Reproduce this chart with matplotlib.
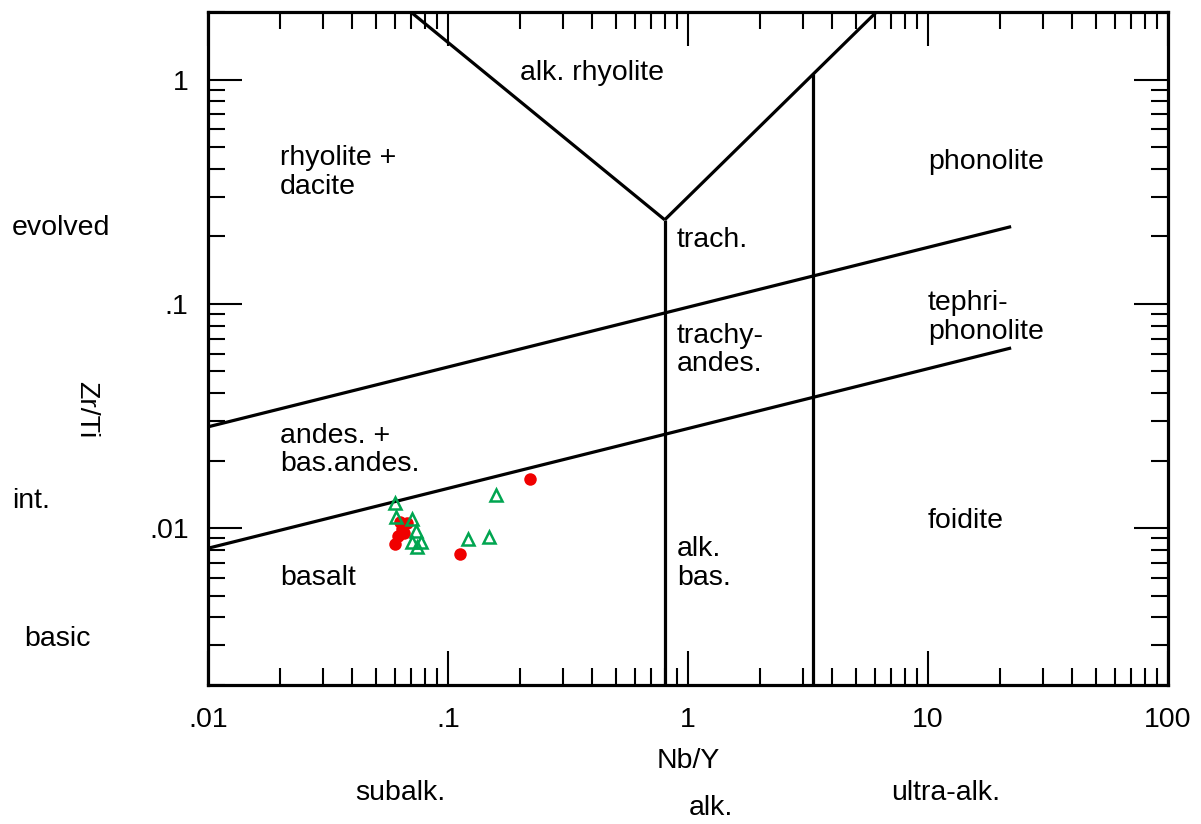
import matplotlib
matplotlib.use("Agg")
import matplotlib.pyplot as plt
from matplotlib.ticker import FixedLocator, FixedFormatter, LogLocator, NullFormatter

plt.rcParams['font.family'] = ['Liberation Sans', 'DejaVu Sans']

# Sample data (Nb/Y, Zr/Ti)
red_nb_y = [0.220, 0.112, 0.0604, 0.0621, 0.0641, 0.0628, 0.0675, 0.0653]
red_zr_ti = [0.0165, 0.00771, 0.00849, 0.00921, 0.00990, 0.01063, 0.01058, 0.00950]

green_nb_y = [0.0604, 0.0607, 0.0710, 0.0738, 0.0708, 0.0775, 0.0746, 0.1208, 0.1485, 0.1578]
green_zr_ti = [0.01293, 0.01125, 0.01103, 0.00970, 0.00871, 0.00871, 0.00827, 0.00898, 0.00918, 0.01404]

# Field boundaries of the classification diagram, as (Nb/Y list, Zr/Ti list)
left_v = ([0.070, 0.80], [2.0, 0.237])
right_v = ([0.80, 6.10], [0.237, 2.0])
alk_line = ([0.80, 0.80], [0.237, 0.002])
ultra_line = ([3.32, 3.32], [1.055, 0.002])
upper_line = ([0.01, 22.2], [0.0283, 0.221])
lower_line = ([0.01, 22.2], [0.00814, 0.0636])
boundaries = [left_v, right_v, alk_line, ultra_line, upper_line, lower_line]

# Tick labels
x_ticks = [0.01, 0.1, 1, 10, 100]
x_tick_labels = ['.01', '.1', '1', '10', '100']
y_ticks = [0.01, 0.1, 1]
y_tick_labels = ['.01', '.1', '1']

# Field names and where they sit (left edge, baseline of last line)
field_names = ['alk. rhyolite', 'rhyolite +\ndacite', 'trach.', 'trachy-\nandes.',
               'phonolite', 'tephri-\nphonolite', 'andes. +\nbas.andes.', 'basalt',
               'alk.\nbas.', 'foidite']
field_x = [0.2, 0.02, 0.9, 0.9, 10, 10, 0.02, 0.02, 0.9, 10]
field_y = [1.0, 0.31, 0.18, 0.05, 0.4, 0.07, 0.018, 0.0056, 0.0056, 0.01]

fs = 20.5

fig = plt.figure(figsize=(12.01, 8.24), dpi=100)
ax = fig.add_axes([208/1201, 139/824, 960/1201, 673/824])
ax.set_xscale('log')
ax.set_yscale('log')
ax.set_xlim(0.01, 100)
ax.set_ylim(0.002, 2)

# boundaries
for bx, by in boundaries:
    ax.plot(bx, by, color='black', lw=2.3, solid_capstyle='butt', zorder=2)

# data
ax.plot(red_nb_y, red_zr_ti, 'o', color='#f00000', mec='none', ms=9, zorder=3)
ax.plot(green_nb_y, green_zr_ti, '^', mfc='none', mec='#00a550', mew=1.8, ms=8, zorder=4)

# ticks
ax.xaxis.set_major_locator(FixedLocator(x_ticks))
ax.xaxis.set_major_formatter(FixedFormatter(x_tick_labels))
ax.yaxis.set_major_locator(FixedLocator(y_ticks))
ax.yaxis.set_major_formatter(FixedFormatter(y_tick_labels))
for axis in [ax.xaxis, ax.yaxis]:
    axis.set_minor_locator(LogLocator(base=10, subs=range(2, 10), numticks=20))
    axis.set_minor_formatter(NullFormatter())
ax.tick_params(which='both', direction='in', top=True, right=True, width=1.5,
               labelsize=fs, color='black')
ax.tick_params(which='major', length=24.5)
ax.tick_params(which='minor', length=12.5)
ax.tick_params(axis='x', pad=16)
ax.tick_params(axis='y', pad=14)
for sp in ax.spines.values():
    sp.set_linewidth(2.3)

# field labels
for name, fx, fy in zip(field_names, field_x, field_y):
    ax.text(fx, fy, name, fontsize=fs, ha='left', va='baseline', linespacing=1.12)

# axis titles
ax.set_xlabel('Nb/Y', fontsize=fs)
ax.xaxis.set_label_coords(0.5, -0.093)
ax.set_ylabel('Zr/Ti', fontsize=fs, rotation=-90, va='center', ha='center')
ax.yaxis.set_label_coords(-0.127, 0.409)

# side labels
ax.text(-0.204, 0.203, 'evolved', fontsize=fs, ha='left', va='baseline',
        transform=ax.get_yaxis_transform())
ax.text(-0.204, 0.01228, 'int.', fontsize=fs, ha='left', va='baseline',
        transform=ax.get_yaxis_transform())
ax.text(-0.191, 0.00298, 'basic', fontsize=fs, ha='left', va='baseline',
        transform=ax.get_yaxis_transform())

# bottom labels, placed in figure pixels
fig.text(400/1201, 1 - 793/824, 'subalk.', fontsize=fs, ha='center', va='center')
fig.text(711/1201, 1 - 808/824, 'alk.', fontsize=fs, ha='center', va='center')
fig.text(946/1201, 1 - 793/824, 'ultra-alk.', fontsize=fs, ha='center', va='center')

fig.savefig('out.png', dpi=100)
